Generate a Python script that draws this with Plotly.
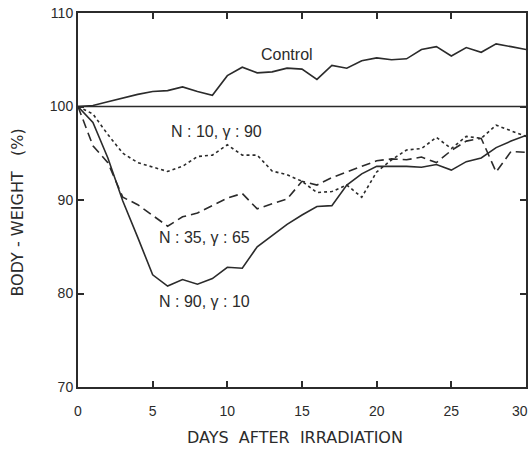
import plotly.graph_objects as go

# Days after irradiation (daily weighing)
days = list(range(0, 31))

# Body weight relative to day 0 (%)
control = [100.0, 100.1, 100.5, 100.9, 101.3, 101.6, 101.7, 102.1, 101.6, 101.2,
           103.3, 104.2, 103.6, 103.7, 104.1, 104.0, 102.9, 104.4, 104.1, 104.9,
           105.2, 105.0, 105.1, 106.1, 106.4, 105.4, 106.3, 105.8, 106.7, 106.4, 106.1]

n10_g90 = [100.0, 99.2, 97.0, 95.0, 94.0, 93.5, 93.05, 93.6, 94.65, 94.8,
           95.9, 94.8, 94.8, 93.1, 92.7, 92.0, 90.8, 90.9, 91.6, 90.3,
           93.0, 94.3, 95.35, 95.5, 96.7, 95.5, 96.8, 96.6, 98.0, 97.4, 96.8]

n35_g65 = [100.0, 95.8, 94.0, 90.3, 89.5, 88.3, 87.2, 88.2, 88.6, 89.4,
           90.2, 90.7, 89.05, 89.6, 90.1, 92.0, 91.6, 92.4, 93.0, 93.6,
           94.2, 94.4, 94.3, 94.6, 94.0, 95.3, 96.3, 96.6, 93.0, 95.2, 95.1]

n90_g10 = [100.0, 98.3, 94.5, 89.9, 86.0, 82.0, 80.8, 81.5, 81.0, 81.6,
           82.8, 82.7, 85.0, 86.2, 87.4, 88.4, 89.3, 89.4, 91.6, 92.8,
           93.6, 93.6, 93.6, 93.5, 93.8, 93.2, 94.1, 94.5, 95.6, 96.3, 96.9]

baseline = 100.0

x_ticks = [0, 5, 10, 15, 20, 25, 30]
x_tick_text = ["0", "5", "10", "15", "20", "25", "30"]
y_ticks = [70, 80, 90, 100, 110]

ink = "#2b2b2b"
tick_font = dict(family="Liberation Sans, Arial, sans-serif", size=14, color=ink)

fig = go.Figure()

# reference level at 100 %
fig.add_trace(go.Scatter(x=[days[0], days[-1]], y=[baseline, baseline], mode="lines",
                         line=dict(color=ink, width=1.5), hoverinfo="skip"))

series = [
    (control, "solid"),
    (n10_g90, "3px,3px"),
    (n35_g65, "9px,5px"),
    (n90_g10, "solid"),
]
for values, dash in series:
    fig.add_trace(go.Scatter(x=days, y=values, mode="lines",
                             line=dict(color=ink, width=1.6, dash=dash)))

label_font = dict(family="Liberation Sans, Arial, sans-serif", size=16, color=ink)
labels = [
    (14.0, 105.6, "Control"),
    (9.3, 97.3, "N : 10, \u03b3 : 90"),
    (8.5, 86.0, "N : 35, \u03b3 : 65"),
    (8.5, 79.1, "N : 90, \u03b3 : 10"),
]
annotations = [dict(x=x, y=y, xref="x", yref="y", text=t, showarrow=False,
                    font=label_font) for x, y, t in labels]

# the last day label sits flush with the right edge of the page
annotations.append(dict(x=x_ticks[-1], y=0, xref="x", yref="paper",
                        text=x_tick_text[-1], showarrow=False, font=tick_font,
                        xanchor="right", yanchor="middle", xshift=4, yshift=-24))

title_font = dict(family="DejaVu Sans, sans-serif", size=16, color=ink)
annotations.append(dict(x=0.485, y=-0.135, xref="paper", yref="paper",
                        text="DAYS  AFTER  IRRADIATION", showarrow=False,
                        font=title_font, xanchor="center", yanchor="middle"))
annotations.append(dict(x=-0.135, y=0.465, xref="paper", yref="paper",
                        text="BODY - WEIGHT   (%)", showarrow=False, textangle=-90,
                        font=title_font, xanchor="center", yanchor="middle"))

axis_common = dict(showgrid=False, zeroline=False, showline=True, linecolor=ink,
                   linewidth=2, mirror="allticks", ticks="inside", ticklen=6,
                   tickwidth=1.5, tickcolor=ink, automargin=False,
                   tickfont=tick_font)

fig.update_layout(
    width=531, height=450,
    margin=dict(l=78, r=5, t=13, b=63, autoexpand=False),
    paper_bgcolor="white", plot_bgcolor="white",
    showlegend=False,
    annotations=annotations,
    xaxis=dict(range=[0, 30], tickvals=x_ticks,
               ticktext=x_tick_text[:-1] + [""],
               ticklabelstandoff=10, **axis_common),
    yaxis=dict(range=[70, 110], tickvals=y_ticks, **axis_common),
)

fig.write_html("out.html")
